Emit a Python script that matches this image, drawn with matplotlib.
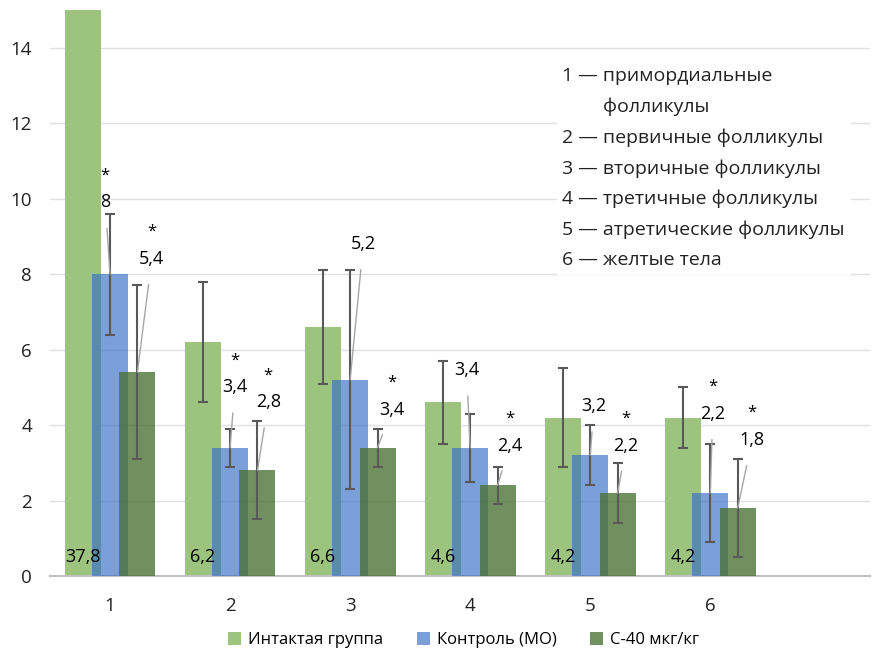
import numpy as np
import matplotlib
matplotlib.use("Agg")
import matplotlib.pyplot as plt

plt.rcParams['font.family'] = ['Open Sans', 'DejaVu Sans']

# данные
groups = ["1", "2", "3", "4", "5", "6"]
intact = [37.8, 6.2, 6.6, 4.6, 4.2, 4.2]
intact_err = [0, 1.6, 1.5, 1.1, 1.3, 0.8]
control = [8, 3.4, 5.2, 3.4, 3.2, 2.2]
control_err = [1.6, 0.5, 2.9, 0.9, 0.8, 1.3]
c40 = [5.4, 2.8, 3.4, 2.4, 2.2, 1.8]
c40_err = [2.3, 1.3, 0.5, 0.5, 0.8, 1.3]
control_star = [True, True, False, False, False, True]
c40_star = [True, True, True, True, True, True]
series_names = ["Интактая группа", "Контроль (МО)", "С-40 мкг/кг"]
legend_lines = ["1 — примордиальные", "        фолликулы", "2 — первичные фолликулы",
                "3 — вторичные фолликулы", "4 — третичные фолликулы",
                "5 — атретические фолликулы", "6 — желтые тела"]

# положение подписей (смещение от бара в осях x, высота в данных)
control_lbl = [(-0.04, 9.9), (0.04, 5.0), (0.11, 8.8), (-0.03, 5.45), (0.03, 4.5), (0.02, 4.3)]
c40_lbl = [(0.12, 8.4), (0.09, 4.6), (0.12, 4.4), (0.10, 3.45), (0.07, 3.45), (0.12, 3.6)]

x = np.arange(1, len(groups) + 1)
w = 0.3
off = 0.228

fig = plt.figure(figsize=(8.76, 6.55), dpi=100)
ax = fig.add_axes([50 / 876, 1 - 576 / 655, 820 / 876, (576 - 10) / 655])

ax.set_ylim(0, 15)
ax.set_xlim(0.5, 7.33)
ax.set_yticks(np.arange(0, 15, 2))
ax.set_xticks(x)
ax.set_xticklabels(groups)
ax.grid(axis='y', color='#e0e0e0', lw=1)
ax.set_axisbelow(True)
for s in ['top', 'right', 'left']:
    ax.spines[s].set_visible(False)
ax.spines['bottom'].set_color('#bfbfbf')
ax.spines['bottom'].set_linewidth(1.5)
ax.tick_params(length=0, labelsize=13.5, colors='#222222')
ax.tick_params(axis='y', pad=13)
ax.tick_params(axis='x', pad=15)

b1 = ax.bar(x - off, intact, w, color='#9cc47e', zorder=2, label=series_names[0])
b2 = ax.bar(x, control, w, color=(55 / 255, 110 / 255, 196 / 255), alpha=0.66, zorder=3,
            label=series_names[1])
b3 = ax.bar(x + off, c40, w, color=(72 / 255, 113 / 255, 51 / 255), alpha=0.78, zorder=4,
            label=series_names[2])

ekw = dict(fmt='none', ecolor='#595959', elinewidth=1.5, capsize=3.5, capthick=1.5, zorder=6)
ax.errorbar(x[1:] - off, intact[1:], yerr=intact_err[1:], **ekw)
ax.errorbar(x, control, yerr=control_err, **ekw)
ax.errorbar(x + off, c40, yerr=c40_err, **ekw)

def fmt(v):
    return ("%g" % v).replace('.', ',')

for i in range(len(groups)):
    ax.text(x[i] - off, 0.5, fmt(intact[i]), ha='center', va='center', fontsize=13, zorder=7)

for vals, pos, labels, stars in [(control, 0.0, control_lbl, control_star),
                                 (c40, off, c40_lbl, c40_star)]:
    for i in range(len(groups)):
        bx = x[i] + pos
        lx, ly = bx + labels[i][0], labels[i][1]
        ax.annotate(fmt(vals[i]), xy=(bx, vals[i]), xytext=(lx, ly),
                    ha='center', va='center', fontsize=13, zorder=7,
                    arrowprops=dict(arrowstyle='-', color='#a6a6a6', lw=1,
                                    shrinkA=10, shrinkB=0))
        if stars[i]:
            ax.text(lx, ly + 0.72, "*", ha='center', va='center', fontsize=12, zorder=7)

ax.text(0.625, 0.9, "\n".join(legend_lines), transform=ax.transAxes, ha='left', va='top',
        fontsize=14, linespacing=1.86, color='#222222', zorder=8,
        bbox=dict(facecolor='white', edgecolor='none', pad=4))

fig.legend(handles=[b1, b2, b3], labels=series_names, loc='center', bbox_to_anchor=(0.529, 0.023),
           ncol=3, frameon=False, fontsize=12, handlelength=0.8, handleheight=0.8,
           handletextpad=0.4, columnspacing=2.0)

fig.savefig("out.png", dpi=100)
